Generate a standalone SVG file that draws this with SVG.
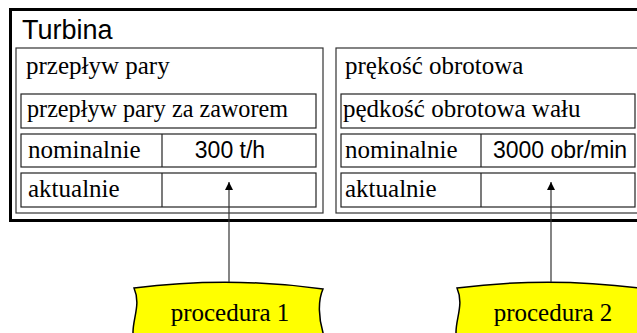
<svg xmlns="http://www.w3.org/2000/svg" width="637" height="333" viewBox="0 0 637 333">
  <defs>
    <marker id="arrow" viewBox="0 0 10 10" refX="10" refY="5" markerWidth="10" markerHeight="8" markerUnits="userSpaceOnUse" orient="auto">
      <path d="M0,0 L10,5 L0,10 Z" fill="#000"/>
    </marker>
    <style>
      .frame { fill: #fff; stroke: #000; stroke-width: 3; }
      .group { fill: none; stroke: #333; stroke-width: 1.2; }
      .cell { fill: none; stroke: #222; stroke-width: 1.2; }
      .serif { font-family: "Liberation Serif", "Times New Roman", serif; font-size: 25px; fill: #000; }
      .sans { font-family: "Liberation Sans", Arial, sans-serif; font-size: 23px; fill: #000; }
      .title { font-family: "Liberation Sans", Arial, sans-serif; font-size: 27px; fill: #000; }
      .proc { fill: #ffff00; stroke: #000; stroke-width: 1.5; }
      .link { fill: none; stroke: #333; stroke-width: 1.2; marker-end: url(#arrow); }
    </style>
  </defs>

  <!-- Turbina container -->
  <g id="turbina">
    <rect class="frame" x="10.5" y="9.5" width="640" height="211"/>
    <text class="title" x="22" y="39">Turbina</text>
  </g>

  <!-- steam flow block -->
  <g id="przeplyw-pary">
    <rect class="group" x="16" y="48" width="307" height="165"/>
    <text class="serif" x="26" y="74">przepływ pary</text>
    <rect class="cell" x="21" y="94" width="295" height="34"/>
    <text class="serif" x="27" y="117" textLength="261" lengthAdjust="spacingAndGlyphs">przepływ pary za zaworem</text>
    <rect class="cell" x="21" y="134" width="295" height="33"/>
    <line class="cell" x1="162" y1="134" x2="162" y2="167"/>
    <text class="serif" x="28" y="158">nominalnie</text>
    <text class="sans" x="230" y="158" text-anchor="middle">300 t/h</text>
    <rect class="cell" x="21" y="173" width="295" height="34"/>
    <line class="cell" x1="162" y1="173" x2="162" y2="207"/>
    <text class="serif" x="28" y="197">aktualnie</text>
  </g>

  <!-- rotational speed block -->
  <g id="predkosc-obrotowa">
    <rect class="group" x="336" y="48" width="310" height="165"/>
    <text class="serif" x="345" y="74">prękość obrotowa</text>
    <rect class="cell" x="341" y="94" width="294" height="34"/>
    <text class="serif" x="343" y="117">pędkość obrotowa wału</text>
    <rect class="cell" x="341" y="134" width="294" height="33"/>
    <line class="cell" x1="481" y1="134" x2="481" y2="167"/>
    <text class="serif" x="345" y="158">nominalnie</text>
    <text class="sans" x="560" y="158" text-anchor="middle">3000 obr/min</text>
    <rect class="cell" x="341" y="173" width="294" height="34"/>
    <line class="cell" x1="481" y1="173" x2="481" y2="207"/>
    <text class="serif" x="345" y="197">aktualnie</text>
  </g>

  <!-- procedures -->
  <g id="procedura-1">
    <path class="proc" d="M134,288 Q229,276 323,289 C318,300 318,318 324,336 L324,345 L133,345 L133,332 C133,318 141,304 134,288 Z"/>
    <text class="serif" x="230" y="321" text-anchor="middle">procedura 1</text>
  </g>
  <g id="procedura-2">
    <path class="proc" d="M457,288 Q552,276 646,289 C641,300 641,318 647,336 L647,345 L456,345 L456,332 C456,318 464,304 457,288 Z"/>
    <text class="serif" x="553" y="321" text-anchor="middle">procedura 2</text>
  </g>

  <!-- connectors -->
  <g id="connectors">
    <line class="link" x1="229" y1="282" x2="229" y2="182"/>
    <line class="link" x1="551" y1="282" x2="551" y2="182"/>
  </g>
</svg>
